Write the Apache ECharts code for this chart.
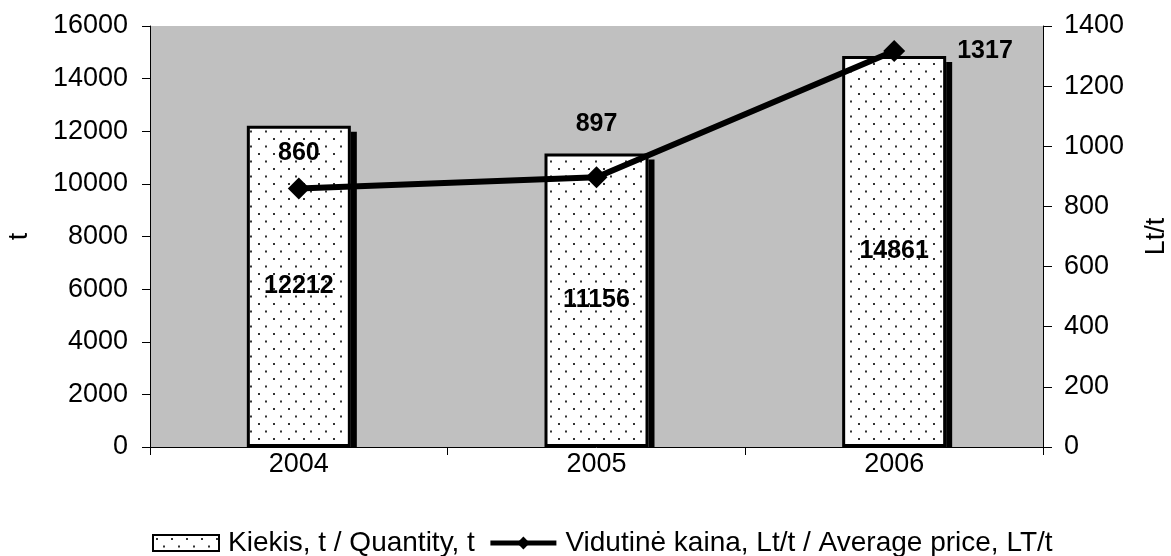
<!DOCTYPE html>
<html>
<head>
<meta charset="utf-8">
<script src="https://cdn.jsdelivr.net/npm/echarts@6/dist/echarts.min.js"></script>
<style>
  html, body { margin: 0; padding: 0; background: #fff; }
  #chart { width: 1171px; height: 556px; }
</style>
</head>
<body>
<div id="chart"></div>
<script>
// data
const years = ['2004', '2005', '2006'];
const quantity = [12212, 11156, 14861];
const avgPrice = [860, 897, 1317];
const quantityName = 'Kiekis, t / Quantity, t';
const priceName = 'Vidutinė kaina, Lt/t / Average price, LT/t';

// dotted fill for bars
function makeDots() {
  const c = document.createElement('canvas');
  c.width = 15;
  c.height = 15;
  const ctx = c.getContext('2d');
  ctx.fillStyle = '#fff';
  ctx.fillRect(0, 0, 15, 15);
  ctx.fillStyle = '#333';
  ctx.fillRect(3, 3, 2, 2);
  ctx.fillRect(10, 10.5, 2, 2);
  return c;
}
const dotFill = { image: makeDots(), repeat: 'repeat' };

// label placement for each price point
const priceLabelPos = [
  { position: 'top', distance: 12 },
  { position: 'top', distance: 30 },
  { position: 'right', distance: 52 }
];

const BAR_W = 104;
const chart = echarts.init(document.getElementById('chart'));
const font = 'Liberation Sans, Arial, sans-serif';
const tickFont = { fontSize: 27, color: '#000', fontFamily: font };

chart.setOption({
  animation: false,
  textStyle: { fontFamily: font },
  grid: {
    left: 150, right: 128, top: 26, bottom: 109,
    containLabel: false,
    outerBoundsMode: 'none',
    show: true, backgroundColor: '#c0c0c0', borderWidth: 0
  },
  legend: {
    top: 524,
    left: 147,
    itemWidth: 66,
    itemHeight: 16,
    itemGap: 13,
    lineStyle: { width: 5, color: '#000' },
    textStyle: { fontSize: 28, color: '#000', fontFamily: font, padding: [0, 0, 0, 4] },
    data: [
      { name: quantityName, icon: 'rect', itemStyle: { borderColor: '#000', borderWidth: 2 } },
      { name: priceName }
    ]
  },
  xAxis: {
    type: 'category',
    data: years,
    boundaryGap: true,
    axisLine: { lineStyle: { color: '#000', width: 1 } },
    axisTick: { show: true, length: 8, lineStyle: { color: '#000' } },
    axisLabel: Object.assign({ margin: 4 }, tickFont)
  },
  yAxis: [{
    type: 'value',
    min: 0, max: 16000, interval: 2000,
    name: 't',
    nameLocation: 'middle',
    nameGap: 117,
    nameTextStyle: tickFont,
    axisLine: { show: true, lineStyle: { color: '#000' } },
    axisTick: { show: true, length: 8, lineStyle: { color: '#000' } },
    axisLabel: Object.assign({ margin: 22, formatter: v => String(v) }, tickFont),
    splitLine: { show: false }
  }, {
    type: 'value',
    min: 0, max: 1400, interval: 200,
    name: 'Lt/t',
    nameLocation: 'middle',
    nameGap: 100,
    nameRotate: 90,
    nameTextStyle: tickFont,
    axisLine: { show: true, lineStyle: { color: '#000' } },
    axisTick: { show: true, length: 9, lineStyle: { color: '#000' } },
    axisLabel: Object.assign({ margin: 21, formatter: v => String(v) }, tickFont),
    splitLine: { show: false }
  }],
  series: [{
    // dark edge drawn on the right side of each bar
    type: 'custom',
    data: quantity.map((v, i) => [i, v]),
    renderItem: function (params, api) {
      const top = api.coord([api.value(0), api.value(1)]);
      const base = api.coord([api.value(0), 0]);
      return {
        type: 'rect',
        shape: { x: top[0] + BAR_W / 2, y: top[1] + 6, width: 6, height: base[1] - top[1] - 6 },
        style: { fill: '#000' }
      };
    },
    silent: true,
    z: 1
  }, {
    name: quantityName,
    type: 'bar',
    data: quantity,
    barWidth: BAR_W,
    itemStyle: {
      color: dotFill,
      borderColor: '#000',
      borderWidth: 3
    },
    label: {
      show: true,
      position: 'inside',
      fontSize: 25,
      fontWeight: 'bold',
      color: '#000'
    },
    z: 2
  }, {
    name: priceName,
    type: 'line',
    yAxisIndex: 1,
    data: avgPrice.map((v, i) => ({ value: v, label: priceLabelPos[i] })),
    symbol: 'diamond',
    symbolSize: 22,
    lineStyle: { color: '#000', width: 6 },
    itemStyle: { color: '#000' },
    label: {
      show: true,
      fontSize: 25,
      fontWeight: 'bold',
      color: '#000'
    },
    z: 3
  }]
});
</script>
</body>
</html>
